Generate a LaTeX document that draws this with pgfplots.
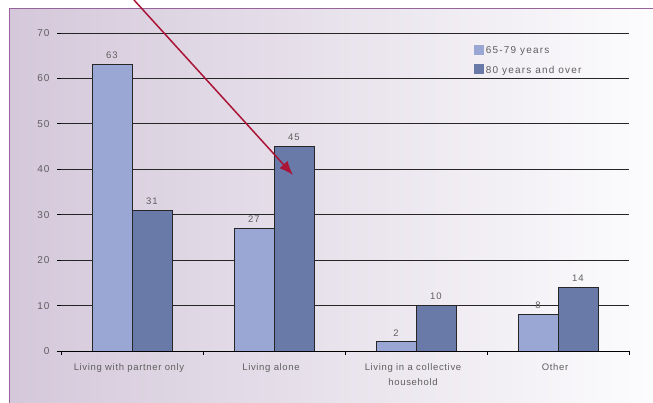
\documentclass[border=0pt]{standalone}
\usepackage{pgfplots}
\pgfplotsset{compat=1.18}
\usetikzlibrary{arrows.meta}
\usepackage{fontspec}
\setmainfont{Liberation Sans}
\newfontfamily\xfont[LetterSpace=7]{Liberation Sans}
\newfontfamily\lgfont[LetterSpace=12]{Liberation Sans}
\newfontfamily\yfont[LetterSpace=10]{Liberation Sans}
\definecolor{barA}{RGB}{154,166,211}
\definecolor{barB}{RGB}{106,122,168}
\definecolor{panelL}{RGB}{212,200,218}
\definecolor{panelR}{RGB}{252,252,253}
\definecolor{frame}{RGB}{150,100,155}
\definecolor{txt}{RGB}{95,95,95}
\definecolor{arrowred}{RGB}{170,20,55}
\begin{document}
\begin{tikzpicture}[x=1pt,y=1pt]
\useasboundingbox (0,0) rectangle (653,403);
\shade[left color=panelL, right color=panelR] (9,0) rectangle (653,394);
\draw[frame, line width=1pt] (9,0) -- (9,394) -- (653,394);
\begin{axis}[
  at={(61pt,52pt)}, anchor=south west,
  scale only axis, width=568pt, height=318pt,
  xmin=-0.5, xmax=3.5, ymin=0, ymax=70,
  separate axis lines,
  axis x line*=bottom, axis y line*=left,
  axis line style={-},
  y axis line style={draw=none},
  x axis line style={black, line width=0.9pt},
  ybar, bar width=40pt, bar shift auto,
  ybar=0pt,
  ytick={0,10,...,70},
  ymajorgrids, grid style={black!85, line width=0.9pt},
  tick align=outside, major tick length=4pt,
  tick style={black, line width=0.9pt},
  xtick={-0.5,0.5,1.5,2.5,3.5}, xticklabels={},
  extra x ticks={0,1,2,3},
  extra x tick labels={Living with partner only, Living alone, {Living in a collective\\household}, Other},
  extra x tick style={major tick length=0pt, tick style={draw=none}},
  xticklabel style={font=\xfont\fontsize{9.5}{15}\selectfont, text=txt, align=center, yshift=-9pt, xshift=-3pt},
  yticklabel style={font=\yfont\fontsize{10}{10}\selectfont, text=txt, xshift=-4pt},
  nodes near coords,
  every node near coord/.append style={font=\yfont\fontsize{9.5}{10}\selectfont, text=txt, yshift=2pt},
  legend style={at={(0.723,0.974)}, anchor=north west, draw=none, fill=none,
    font=\lgfont\fontsize{10}{10}\selectfont, text=txt, row sep=7pt,
    inner xsep=2pt, inner ysep=3pt, legend cell align=left},
  legend image code/.code={\fill[#1,draw=none] (0pt,-4pt) rectangle (10pt,6pt);},
  /pgf/number format/assume math mode=true,
]
\addplot[fill=barA, draw=black!85, line width=0.9pt] coordinates {(0,63) (1,27) (2,2) (3,8)};
\addplot[fill=barB, draw=black!85, line width=0.9pt] coordinates {(0,31) (1,45) (2,10) (3,14)};
\legend{65-79 years, 80 years and over}
\end{axis}
\draw[arrowred, line width=1.5pt, -{Latex[length=14pt,width=11pt]}] (134,403) -- (293,228);
\end{tikzpicture}
\end{document}
